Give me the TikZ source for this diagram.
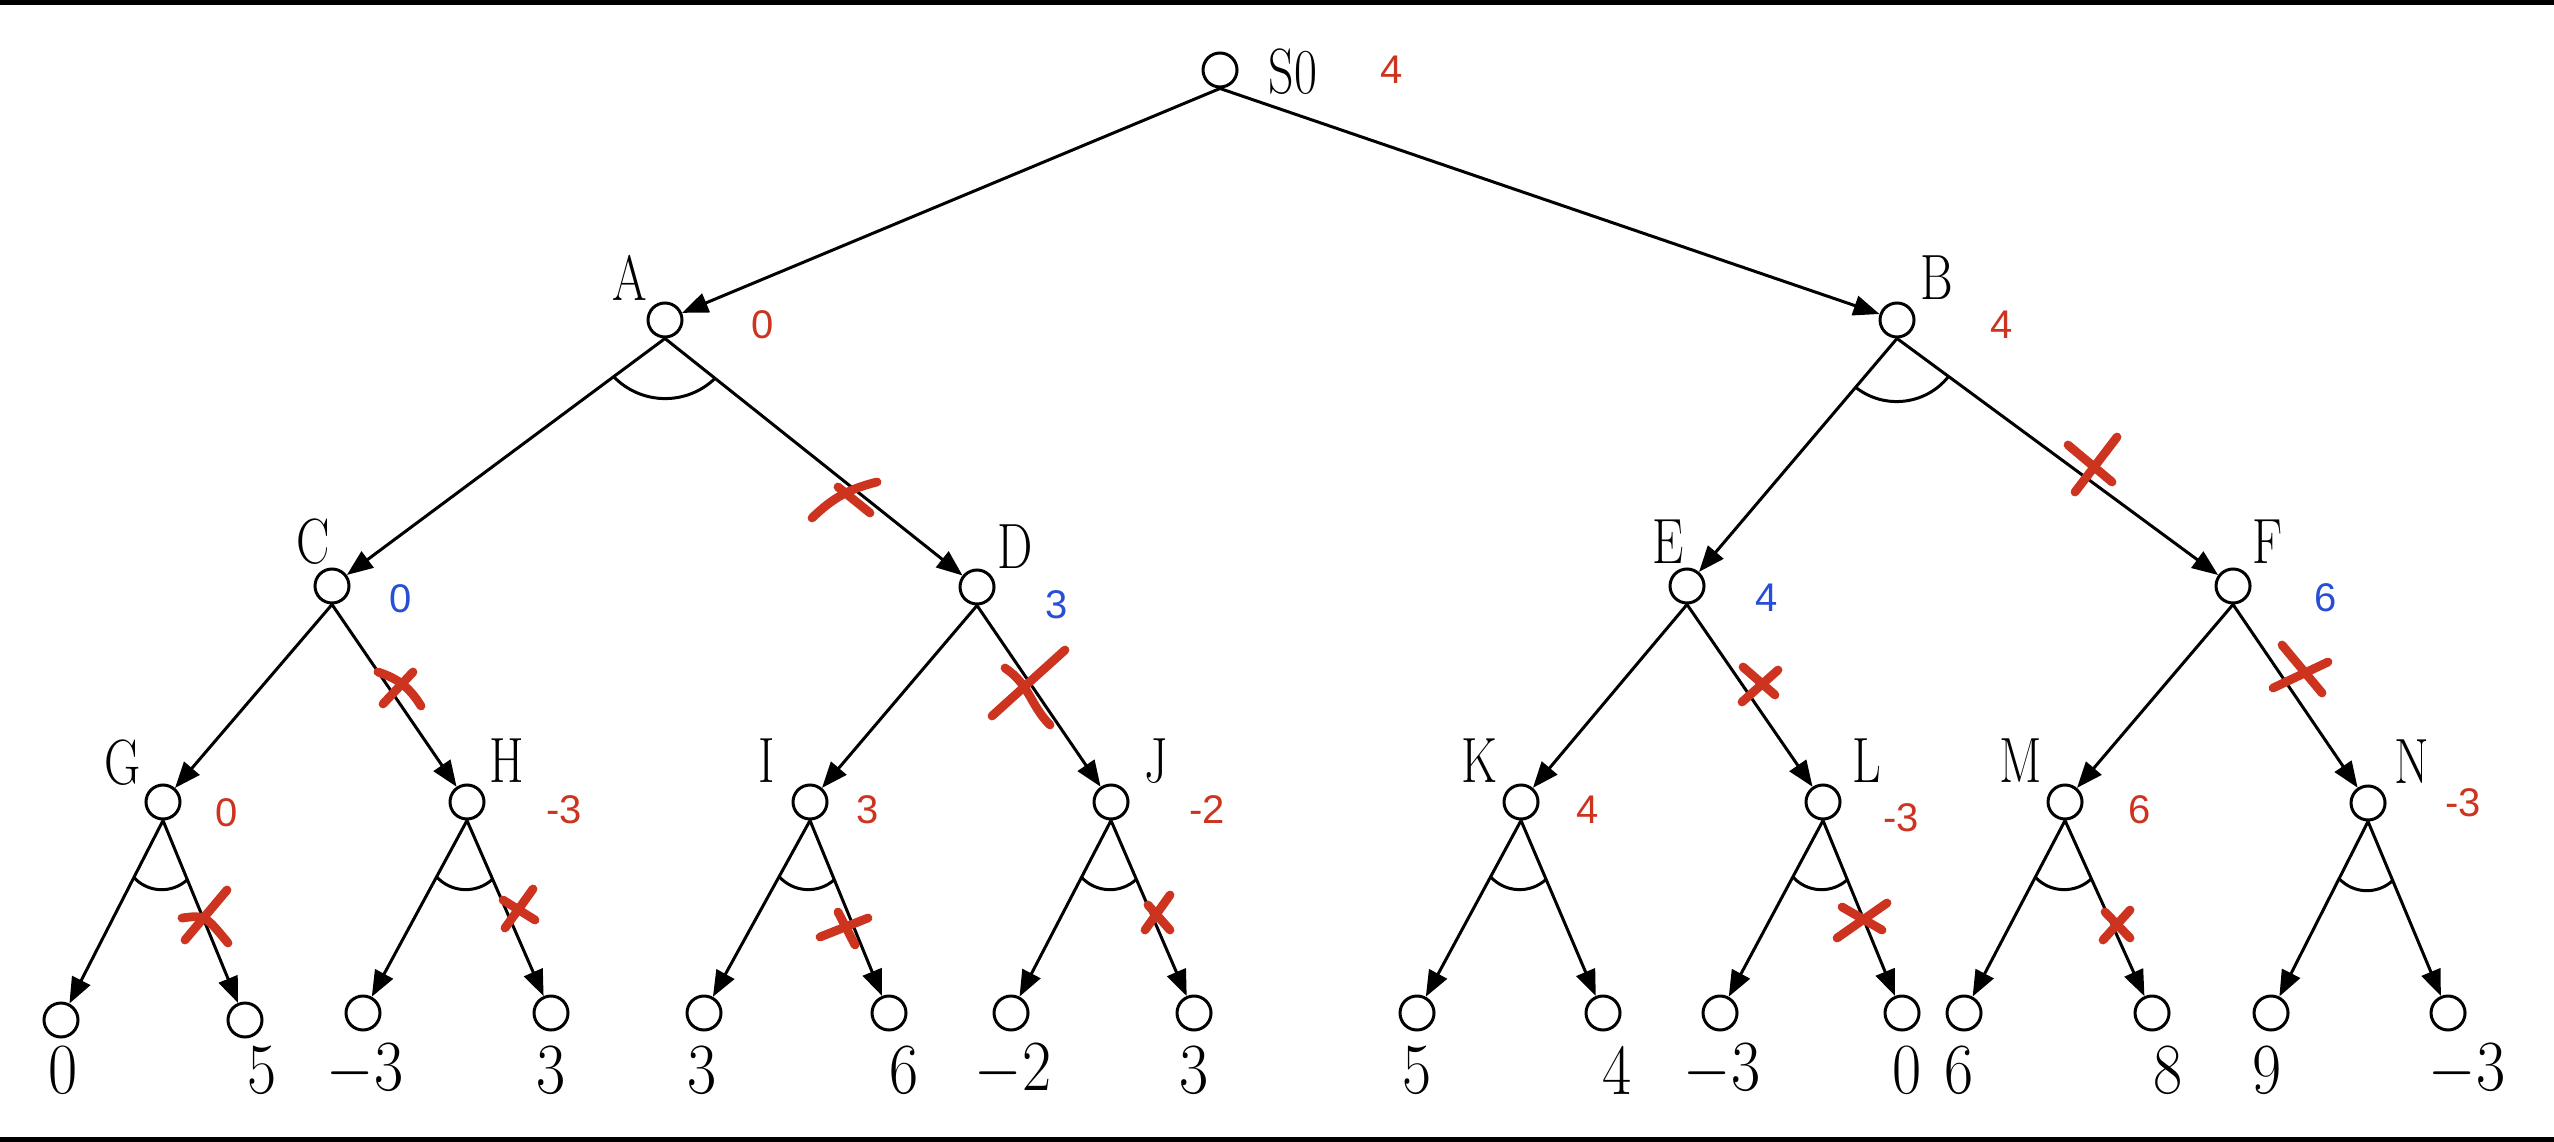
\documentclass[tikz,border=0pt]{standalone}
\usepackage{fontspec}
\newfontfamily\valfont{Liberation Sans}
\usetikzlibrary{arrows.meta,calc}
\definecolor{xred}{RGB}{204,52,32}
\definecolor{vblue}{RGB}{38,78,214}
\newcommand{\narrowlab}[1]{\scalebox{0.78}[1]{#1}}
\newcommand{\narrowleaf}[1]{\scalebox{0.88}[1]{#1}}
\begin{document}
\begin{tikzpicture}[x=0.25pt,y=0.25pt,
  st/.style={circle,draw,line width=0.75pt,minimum size=8.5pt,inner sep=0pt},
  ed/.style={line width=0.75pt,-{Triangle[length=6.5pt,width=5pt]}},
  lab/.style={inner sep=0pt,font=\fontsize{16}{18}\selectfont},
  leafv/.style={inner sep=0pt,font=\fontsize{18}{20}\selectfont},
  rv/.style={inner sep=0pt,text=xred,font=\valfont\fontsize{10}{12}\selectfont},
  bv/.style={inner sep=0pt,text=vblue,font=\valfont\fontsize{10}{12}\selectfont},
  xm/.style={draw=xred,line width=2.2pt,line cap=round},
  andarc/.style={line width=0.75pt}]
\useasboundingbox (0,0) rectangle (2554,-1142);
\fill (0,0) rectangle (2554,-5);
\fill (0,-1137) rectangle (2554,-1142);

% internal nodes
\node[st] (S0) at (1220,-70) {};
\node[st] (A) at (665,-320) {};
\node[st] (B) at (1897,-320) {};
\node[st] (C) at (332,-586) {};
\node[st] (D) at (977,-587) {};
\node[st] (E) at (1687,-586) {};
\node[st] (F) at (2233,-586) {};
\node[st] (G) at (163,-802) {};
\node[st] (H) at (467,-802) {};
\node[st] (I) at (810,-802) {};
\node[st] (J) at (1111,-802) {};
\node[st] (K) at (1521,-802) {};
\node[st] (L) at (1823,-802) {};
\node[st] (M) at (2065,-802) {};
\node[st] (N) at (2368,-803) {};

% leaves
\node[st] (g1) at (61,-1020) {};
\node[st] (g2) at (245,-1020) {};
\node[st] (h1) at (363,-1013) {};
\node[st] (h2) at (551,-1013) {};
\node[st] (i1) at (704,-1013) {};
\node[st] (i2) at (889,-1013) {};
\node[st] (j1) at (1011,-1013) {};
\node[st] (j2) at (1194,-1013) {};
\node[st] (k1) at (1417,-1013) {};
\node[st] (k2) at (1603,-1013) {};
\node[st] (l1) at (1720,-1013) {};
\node[st] (l2) at (1902,-1013) {};
\node[st] (m1) at (1964,-1013) {};
\node[st] (m2) at (2152,-1013) {};
\node[st] (n1) at (2271,-1013) {};
\node[st] (n2) at (2448,-1013) {};

% node letters
\node[lab] (tS0) at (1293,-72) {\narrowlab{S0}};
\node[lab] (tA) at (630,-278) {\narrowlab{A}};
\node[lab] (tB) at (1937,-278) {\narrowlab{B}};
\node[lab] (tC) at (313,-542) {\narrowlab{C}};
\node[lab] (tD) at (1015,-547) {\narrowlab{D}};
\node[lab] (tE) at (1668,-542) {\narrowlab{E}};
\node[lab] (tF) at (2267,-542) {\narrowlab{F}};
\node[lab] (tG) at (123,-763) {\narrowlab{G}};
\node[lab] (tH) at (507,-761) {\narrowlab{H}};
\node[lab] (tI) at (767,-761) {\narrowlab{I}};
\node[lab] (tJ) at (1156,-761) {\narrowlab{J}};
\node[lab] (tK) at (1479,-761) {\narrowlab{K}};
\node[lab] (tL) at (1867,-761) {\narrowlab{L}};
\node[lab] (tM) at (2021,-761) {\narrowlab{M}};
\node[lab] (tN) at (2412,-762) {\narrowlab{N}};

% values
\node[rv] (vS0) at (1392,-70) {4};
\node[rv] (vA) at (763,-325) {0};
\node[rv] (vB) at (2002,-325) {4};
\node[bv] (vC) at (401,-599) {0};
\node[bv] (vD) at (1057,-605) {3};
\node[bv] (vE) at (1767,-598) {4};
\node[bv] (vF) at (2326,-598) {6};
\node[rv] (vG) at (227,-813) {0};
\node[rv] (vH) at (564,-810) {-3};
\node[rv] (vI) at (868,-810) {3};
\node[rv] (vJ) at (1207,-810) {-2};
\node[rv] (vK) at (1588,-810) {4};
\node[rv] (vL) at (1901,-818) {-3};
\node[rv] (vM) at (2140,-810) {6};
\node[rv] (vN) at (2463,-803) {-3};

% leaf values
\node[leafv] (vg1) at (63,-1070) {\narrowleaf{0}};
\node[leafv] (vg2) at (262,-1070) {\narrowleaf{5}};
\node[leafv] (vh1) at (365,-1070) {\narrowleaf{$-$3}};
\node[leafv] (vh2) at (551,-1070) {\narrowleaf{3}};
\node[leafv] (vi1) at (702,-1070) {\narrowleaf{3}};
\node[leafv] (vi2) at (904,-1070) {\narrowleaf{6}};
\node[leafv] (vj1) at (1013,-1070) {\narrowleaf{$-$2}};
\node[leafv] (vj2) at (1194,-1070) {\narrowleaf{3}};
\node[leafv] (vk1) at (1417,-1070) {\narrowleaf{5}};
\node[leafv] (vk2) at (1617,-1070) {\narrowleaf{4}};
\node[leafv] (vl1) at (1722,-1070) {\narrowleaf{$-$3}};
\node[leafv] (vl2) at (1907,-1070) {\narrowleaf{0}};
\node[leafv] (vm1) at (1959,-1070) {\narrowleaf{6}};
\node[leafv] (vm2) at (2168,-1070) {\narrowleaf{8}};
\node[leafv] (vn1) at (2267,-1070) {\narrowleaf{9}};
\node[leafv] (vn2) at (2467,-1070) {\narrowleaf{$-$3}};

% edges
\foreach \p/\c in {S0/A,S0/B,A/C,A/D,B/E,B/F,C/G,C/H,D/I,D/J,E/K,E/L,F/M,F/N,
  G/g1,G/g2,H/h1,H/h2,I/i1,I/i2,J/j1,J/j2,K/k1,K/k2,L/l1,L/l2,M/m1,M/m2,N/n1,N/n2}
  \draw[ed] (\p.south) -- (\c);

% AND arcs
\foreach \p/\a/\b in {A/C/D,B/E/F,G/g1/g2,H/h1/h2,I/i1/i2,J/j1/j2,K/k1/k2,L/l1/l2,M/m1/m2,N/n1/n2}
  \draw[andarc] ($(\p.south)!16pt!(\a)$) to[bend right=45] ($(\p.south)!16pt!(\b)$);

% red crosses
\draw[xm] (812,-518) to[bend left=15] (877,-482);
\draw[xm] (838,-487) -- (870,-513);
\draw[xm] (2117,-437) -- (2075,-492);
\draw[xm] (2068,-445) -- (2112,-482);
\draw[xm] (378,-672) to[bend left=20] (421,-706);
\draw[xm] (413,-672) -- (383,-704);
\draw[xm] (1065,-650) -- (992,-716);
\draw[xm] (1005,-668) .. controls (1030,-685) and (1030,-705) .. (1050,-725);
\draw[xm] (1743,-667) -- (1775,-695);
\draw[xm] (1778,-670) -- (1742,-702);
\draw[xm] (2282,-645) -- (2322,-693);
\draw[xm] (2328,-662) -- (2273,-688);
\draw[xm] (227,-890) -- (185,-940);
\draw[xm] (182,-918) .. controls (205,-915) .. (228,-943);
\draw[xm] (533,-889) -- (505,-928);
\draw[xm] (503,-900) -- (535,-920);
\draw[xm] (820,-937) -- (868,-918);
\draw[xm] (838,-912) -- (855,-945);
\draw[xm] (1170,-895) -- (1145,-930);
\draw[xm] (1148,-905) -- (1170,-930);
\draw[xm] (1842,-907) -- (1882,-930);
\draw[xm] (1887,-903) -- (1837,-938);
\draw[xm] (2105,-912) -- (2130,-938);
\draw[xm] (2130,-910) -- (2103,-940);
\end{tikzpicture}
\end{document}
